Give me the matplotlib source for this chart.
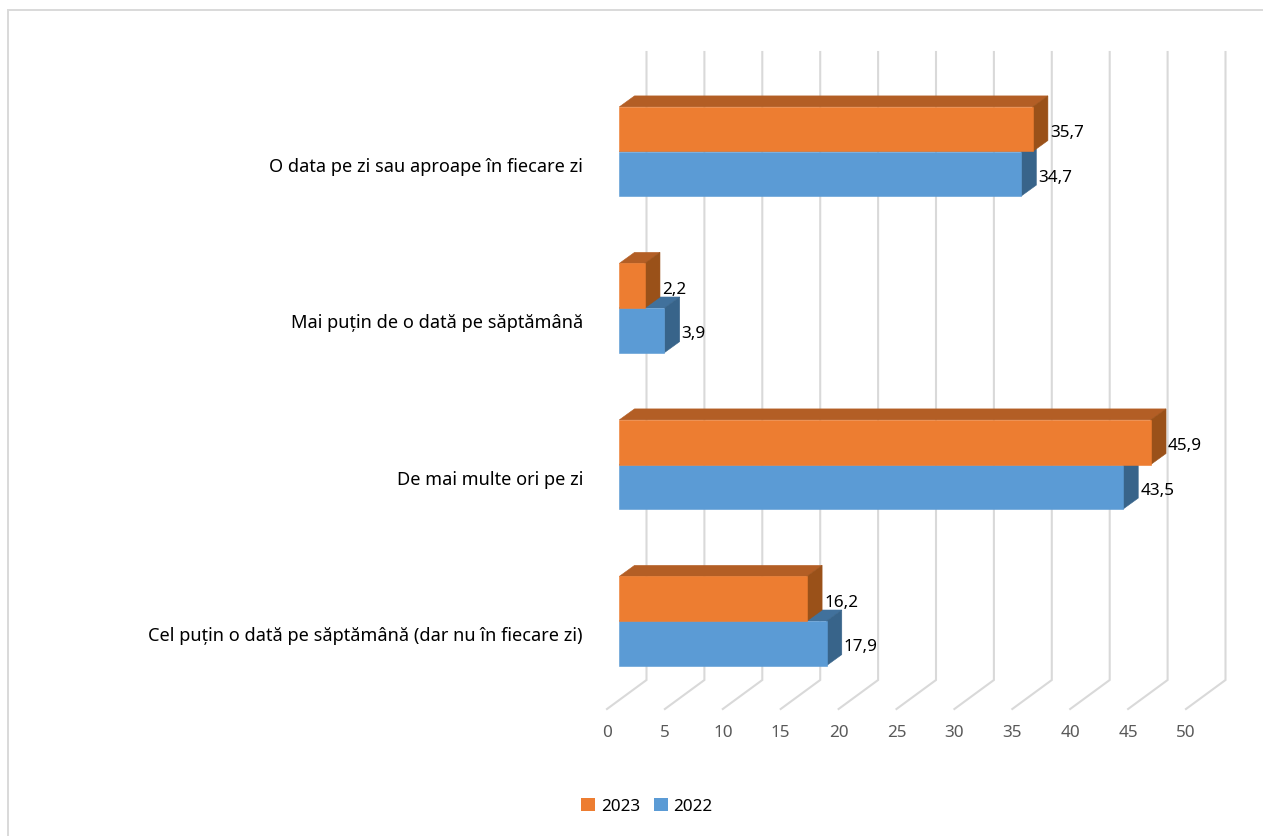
import matplotlib
matplotlib.use("Agg")
import matplotlib.pyplot as plt
from matplotlib.lines import Line2D
from matplotlib.patches import Patch, Polygon

plt.rcParams['font.family'] = ['Noto Sans', 'DejaVu Sans']

categories = ["O data pe zi sau aproape în fiecare zi",
              "Mai puțin de o dată pe săptămână",
              "De mai multe ori pe zi",
              "Cel puțin o dată pe săptămână (dar nu în fiecare zi)"]
values_2023 = [35.7, 2.2, 45.9, 16.2]
values_2022 = [34.7, 3.9, 43.5, 17.9]
xticks = list(range(0, 55, 5))

W, H = 1263, 837
PX_PER_UNIT = 11.58
PX_PER_CAT = 156.5
C_ORANGE = ("#ED7D31", "#B35E25", "#9A5119")
C_BLUE = ("#5B9BD5", "#41719C", "#38648A")
GRID = "#D9D9D9"

fig = plt.figure(figsize=(W / 100, H / 100), dpi=100, facecolor="white")
L, R, T, B = 583, 1263, 40, 710
ax = fig.add_axes([L / W, 1 - B / H, (R - L) / W, (B - T) / H])
ax.set_xlim((L - 607) / PX_PER_UNIT, (R - 607) / PX_PER_UNIT)
ax.set_ylim((B - 165) / PX_PER_CAT, (T - 165) / PX_PER_CAT)
for s in ax.spines.values():
    s.set_visible(False)

# perspective offsets of the pseudo-3D chart, in data units
BAR0 = 12.3 / PX_PER_UNIT
DX = 15.2 / PX_PER_UNIT
DY = 11 / PX_PER_CAT
WALLX = 39.5 / PX_PER_UNIT
WALL_BOTTOM = (681 - 165) / PX_PER_CAT
WALL_TOP = (53 - 165) / PX_PER_CAT
FLOOR = (710 - 165) / PX_PER_CAT
BAR_H = 44.6 / PX_PER_CAT
MID = -12.5 / PX_PER_CAT

for t in xticks:
    ax.plot([t, t + WALLX, t + WALLX], [FLOOR, WALL_BOTTOM, WALL_TOP],
            color=GRID, lw=1.5, zorder=1, clip_on=False, solid_joinstyle="miter")


def box(y, v, colors, z):
    front, top, side = colors
    x0, x1 = BAR0, BAR0 + v
    y0, y1 = y - BAR_H / 2, y + BAR_H / 2
    ax.add_patch(Polygon([(x0, y0), (x1, y0), (x1 + DX, y0 - DY), (x0 + DX, y0 - DY)],
                         closed=True, fc=top, ec=top, lw=0.4, zorder=z))
    ax.add_patch(Polygon([(x1, y0), (x1 + DX, y0 - DY), (x1 + DX, y1 - DY), (x1, y1)],
                         closed=True, fc=side, ec=side, lw=0.4, zorder=z))
    ax.barh(y, v, height=BAR_H, left=BAR0, color=front, edgecolor=front, lw=0.4, zorder=z + 0.5)
    ax.text(x1 + DX + 2 / PX_PER_UNIT, y + 3 / PX_PER_CAT, f"{v:.1f}".replace(".", ","),
            ha="left", va="center", fontsize=FS_LAB, color="black", zorder=10)


FS_LAB = 12.3
for i, (a, b) in enumerate(zip(values_2023, values_2022)):
    box(i + MID + BAR_H / 2, b, C_BLUE, 3)
for i, (a, b) in enumerate(zip(values_2023, values_2022)):
    box(i + MID - BAR_H / 2, a, C_ORANGE, 5)

ax.set_yticks(range(len(categories)), categories)
ax.set_xticks(xticks, [str(t) for t in xticks])
ax.tick_params(axis="y", length=0, pad=0, labelsize=13.1, labelcolor="black")
ax.tick_params(axis="x", length=0, pad=11, labelsize=12.3, labelcolor="#595959")

handles = [Patch(fc=C_ORANGE[0], ec="none", label="2023"),
           Patch(fc=C_BLUE[0], ec="none", label="2022")]
fig.legend(handles=handles, ncol=2, frameon=False, fontsize=12.3, loc="center",
           bbox_to_anchor=(647 / W, 1 - 807 / H), handlelength=0.8, handleheight=0.8,
           handletextpad=0.35, columnspacing=0.8, borderpad=0, borderaxespad=0)

fig.add_artist(Line2D([8 / W, 8 / W, 1], [0, 1 - 10.5 / H, 1 - 10.5 / H],
                      color=GRID, lw=1.4, transform=fig.transFigure, solid_joinstyle="miter"))

fig.savefig("out.png", dpi=100)
